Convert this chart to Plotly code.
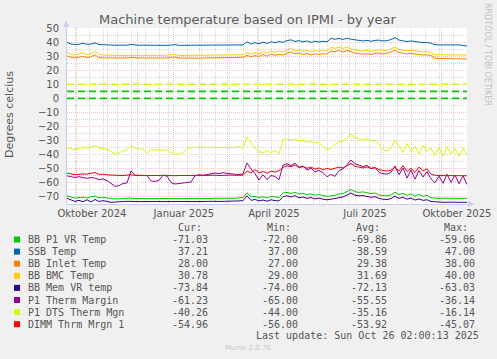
import pandas as pd
import plotly.graph_objects as go

# ---------------- data ----------------
start = pd.Timestamp("2024-09-21 02:00")
end = pd.Timestamp("2025-10-26 02:00")
dates = pd.date_range(start, end, periods=101)  # one sample every 4 days

bb_p1_vr = [-69.2, -70.2, -70.8, -70.4, -70.2, -70.8, -69.8, -69.4, -70.6, -70.2,
            -70.8, -71.2, -71.4, -71.2, -71.0, -71.2, -70.8, -71.1, -71.2, -71.0,
            -71.1, -71.0, -71.2, -71.1, -71.0, -71.1, -71.0, -71.1, -71.2, -71.0,
            -71.1, -71.0, -71.0, -71.1, -71.0, -71.0, -71.1, -70.9, -71.0, -71.0,
            -71.0, -70.8, -71.0, -70.6, -70.4, -67.0, -69.8, -69.6, -70.4, -69.8,
            -70.6, -69.6, -70.0, -70.4, -67.2, -66.8, -67.6, -66.6, -68.0, -67.4,
            -68.4, -67.8, -68.8, -68.2, -69.0, -69.6, -69.2, -68.8, -67.8, -67.6,
            -66.2, -64.6, -66.2, -66.8, -66.4, -66.8, -67.6, -67.2, -68.6, -69.0,
            -69.2, -68.6, -66.6, -68.4, -67.4, -68.8, -67.8, -69.4, -68.2, -69.6,
            -68.8, -70.6, -71.0, -71.0, -70.9, -71.0, -71.0, -71.1, -71.0, -71.0, -71.03]

ssb = [39.8, 38.6, 38.3, 38.4, 39.2, 38.4, 38.6, 39.4, 38.3, 38.0,
       37.8, 37.9, 37.8, 37.8, 37.8, 37.8, 38.4, 37.8, 37.7, 37.8,
       37.7, 37.8, 37.7, 37.7, 37.8, 37.7, 37.9, 38.2, 37.7, 37.7,
       37.7, 37.7, 37.8, 37.7, 37.7, 37.7, 37.7, 37.8, 37.7, 37.7,
       37.7, 38.1, 38.0, 37.8, 38.0, 40.2, 38.6, 39.6, 38.8, 40.0,
       39.0, 40.2, 39.6, 40.4, 39.8, 41.0, 41.6, 40.4, 41.0, 40.2,
       40.8, 39.8, 40.6, 40.0, 40.6, 40.2, 42.6, 42.0, 42.6, 41.8,
       42.8, 42.0, 41.6, 41.2, 40.8, 41.2, 40.6, 41.2, 41.4, 40.8,
       41.0, 41.8, 43.2, 41.4, 41.0, 40.4, 40.8, 40.2, 40.0, 39.6,
       39.8, 39.2, 38.2, 38.0, 38.0, 37.8, 38.2, 37.8, 38.0, 37.6, 37.2]

bb_inlet = [30.2, 29.2, 28.8, 29.4, 29.8, 28.8, 29.6, 31.0, 29.0, 28.8,
            28.7, 28.8, 28.7, 28.6, 28.7, 28.7, 29.2, 28.7, 28.7, 28.7,
            28.6, 28.7, 28.7, 28.6, 28.7, 28.7, 28.8, 29.4, 28.7, 28.6,
            28.7, 28.7, 28.7, 28.6, 28.7, 28.7, 28.7, 28.8, 28.7, 28.7,
            28.7, 29.0, 28.8, 28.7, 29.2, 30.6, 29.6, 30.4, 29.8, 31.2,
            30.0, 31.4, 30.6, 31.2, 30.8, 32.2, 33.0, 31.6, 32.2, 31.2,
            32.0, 30.8, 31.8, 31.2, 31.8, 31.4, 33.8, 33.2, 34.0, 33.0,
            34.0, 33.2, 32.2, 31.8, 31.4, 31.8, 31.2, 32.0, 32.2, 31.6,
            32.0, 33.0, 34.2, 32.6, 32.2, 31.6, 32.0, 31.4, 31.2, 30.8,
            31.0, 30.4, 28.6, 28.4, 28.3, 28.2, 28.3, 28.2, 28.2, 28.1, 28.0]

bb_bmc = [32.6, 31.2, 30.8, 31.6, 32.4, 31.0, 31.8, 33.4, 31.2, 30.8,
          30.5, 30.6, 30.5, 30.5, 30.5, 30.5, 31.0, 30.5, 30.5, 30.5,
          30.5, 30.5, 30.5, 30.4, 30.5, 30.5, 30.6, 31.2, 30.5, 30.5,
          30.5, 30.5, 30.5, 30.5, 30.5, 30.5, 30.5, 30.6, 30.5, 30.5,
          30.5, 30.8, 30.6, 30.5, 31.0, 32.6, 31.6, 32.6, 31.8, 33.2,
          32.2, 33.6, 32.8, 33.4, 33.0, 34.4, 35.4, 33.8, 34.4, 33.4,
          34.2, 33.0, 34.0, 33.4, 34.0, 33.6, 36.2, 35.6, 36.4, 35.4,
          36.6, 35.2, 34.4, 34.0, 33.6, 34.0, 33.4, 34.2, 34.6, 33.8,
          34.2, 35.2, 36.4, 34.8, 34.4, 33.8, 34.2, 33.6, 33.4, 33.0,
          33.2, 32.6, 31.2, 31.0, 30.9, 30.8, 30.9, 30.8, 30.8, 30.8, 30.78]

bb_mem_vr = [-70.9, -72.2, -73.2, -72.4, -73.4, -72.0, -73.6, -71.8, -73.2, -72.6,
             -73.4, -73.8, -73.6, -73.2, -73.3, -73.1, -73.4, -73.2, -73.3, -73.2,
             -73.3, -73.2, -73.4, -73.2, -73.3, -73.2, -73.3, -73.2, -73.4, -73.3,
             -73.2, -73.3, -73.2, -73.3, -73.2, -73.2, -73.3, -73.1, -73.2, -73.2,
             -73.2, -73.0, -73.1, -72.8, -72.6, -69.2, -72.4, -71.8, -72.8, -72.2,
             -73.0, -72.0, -72.6, -72.8, -69.8, -69.2, -70.0, -69.0, -70.6, -70.0,
             -71.0, -70.4, -71.4, -70.8, -71.6, -72.0, -71.6, -71.0, -70.4, -70.0,
             -68.6, -67.2, -68.8, -69.2, -69.0, -69.4, -70.2, -69.8, -71.0, -71.6,
             -71.8, -71.2, -69.4, -71.0, -70.2, -71.6, -70.8, -72.2, -71.4, -72.4,
             -72.0, -73.2, -73.6, -73.6, -73.8, -73.6, -73.7, -73.8, -73.6, -73.8, -73.84]

p1_therm_margin = [-55.0, -55.8, -56.2, -55.6, -56.4, -56.8, -56.2, -56.6, -57.6, -57.2,
                   -58.4, -60.2, -62.4, -62.0, -60.4, -60.0, -51.6, -54.6, -54.6, -54.4,
                   -54.8, -58.6, -59.0, -58.2, -54.6, -55.2, -59.8, -60.8, -60.4, -60.2,
                   -59.8, -59.4, -55.0, -54.2, -54.6, -54.0, -53.6, -53.0, -53.4, -52.8,
                   -53.2, -53.4, -53.8, -54.2, -53.6, -45.8, -50.2, -53.4, -58.0, -54.2,
                   -57.6, -54.8, -55.4, -57.8, -47.4, -46.4, -47.8, -46.0, -49.0, -48.0,
                   -50.8, -49.6, -52.2, -51.2, -52.8, -55.6, -54.0, -55.4, -51.2, -50.0,
                   -47.2, -43.8, -46.4, -47.2, -48.4, -47.6, -49.8, -49.0, -52.6, -53.4,
                   -53.8, -52.6, -48.0, -54.2, -49.4, -56.6, -50.8, -57.4, -51.2, -55.8,
                   -52.0, -57.2, -59.8, -55.2, -60.4, -53.8, -59.6, -54.4, -60.6, -55.0, -61.23]

p1_dts_therm = [-35.0, -35.5, -36.5, -35.5, -34.5, -35.5, -34.8, -33.6, -35.2, -35.8,
                -36.2, -37.5, -40.0, -38.8, -37.2, -36.5, -33.6, -35.2, -35.8, -36.2,
                -39.0, -36.5, -36.4, -36.6, -36.3, -36.8, -38.5, -39.8, -39.6, -38.5,
                -35.5, -35.3, -35.2, -34.6, -35.2, -34.8, -35.0, -34.6, -35.0, -34.8,
                -35.2, -34.6, -35.0, -34.2, -35.4, -27.5, -31.5, -35.5, -37.5, -38.8,
                -37.0, -38.5, -37.2, -39.2, -29.4, -28.6, -29.8, -28.8, -30.2, -29.6,
                -31.0, -30.4, -31.8, -31.2, -34.2, -36.8, -35.2, -32.5, -30.8, -30.2,
                -28.2, -25.3, -27.8, -28.8, -29.5, -28.6, -30.2, -29.8, -32.5, -36.8,
                -37.2, -35.5, -29.8, -33.5, -38.5, -32.0, -37.6, -34.0, -39.5, -33.2,
                -37.8, -35.4, -40.5, -35.0, -41.0, -34.2, -39.5, -35.8, -41.2, -35.4, -40.26]

dimm_mrgn = [-53.0, -53.6, -54.2, -54.0, -53.6, -53.8, -53.2, -52.6, -54.0, -53.8,
             -54.3, -54.6, -54.8, -54.7, -54.8, -54.6, -54.2, -54.7, -54.8, -54.6,
             -54.8, -54.7, -54.9, -54.8, -54.6, -54.8, -54.7, -54.9, -54.8, -54.7,
             -54.8, -54.6, -54.8, -54.7, -54.8, -54.6, -54.7, -54.5, -54.8, -54.6,
             -54.7, -54.5, -54.6, -54.4, -54.6, -51.5, -53.0, -50.5, -52.8, -52.0,
             -53.2, -51.6, -52.4, -51.2, -49.0, -47.8, -48.6, -47.2, -49.2, -48.4,
             -49.6, -48.8, -50.2, -49.4, -50.6, -49.8, -50.4, -49.6, -48.8, -49.4,
             -47.6, -46.2, -48.2, -48.8, -49.4, -48.6, -49.8, -49.2, -50.6, -51.2,
             -51.6, -51.0, -49.0, -51.5, -47.8, -52.0, -49.6, -52.6, -48.8, -51.6,
             -50.0, -53.8, -54.6, -54.8, -54.9, -54.8, -54.9, -55.0, -54.9, -54.9, -54.96]

series_names = ["BB P1 VR Temp", "SSB Temp", "BB Inlet Temp", "BB BMC Temp",
                "BB Mem VR temp", "P1 Therm Margin", "P1 DTS Therm Mgn", "DIMM Thrm Mrgn 1"]
series_values = [bb_p1_vr, ssb, bb_inlet, bb_bmc, bb_mem_vr, p1_therm_margin, p1_dts_therm, dimm_mrgn]
series_colors = ["#00CC00", "#0066B3", "#FF8000", "#FFCC00",
                 "#330099", "#990099", "#CCFF00", "#FF0000"]

cur_vals = ["-71.03", "37.21", "28.00", "30.78", "-73.84", "-61.23", "-40.26", "-54.96"]
min_vals = ["-72.00", "37.00", "27.00", "29.00", "-74.00", "-65.00", "-44.00", "-56.00"]
avg_vals = ["-69.86", "38.59", "29.38", "31.69", "-72.13", "-55.55", "-35.16", "-53.92"]
max_vals = ["-59.06", "47.00", "38.00", "40.00", "-63.03", "-36.14", "-16.14", "-45.07"]

hrule_values = [10, 5, 0]
hrule_colors = ["#CCFF00", "#00CC00", "#00CC00"]

xlabel_dates = ["2024-10-16", "2025-01-16", "2025-04-16", "2025-07-16", "2025-10-16"]
xlabel_text = ["Oktober 2024", "Januar 2025", "April 2025", "Juli 2025", "Oktober 2025"]
ytick_vals = [-70, -60, -50, -40, -30, -20, -10, 0, 10, 20, 30, 40, 50]

# ---------------- layout geometry ----------------
W, H = 497, 359
L, R, T, B = 67, 30, 28, 155
PW, PH = W - L - R, H - T - B


def px(x):
    return (x - L) / PW


def py(y):
    return (H - B - y) / PH


TXT = "#555555"
SANS = "DejaVu Sans"
MONO = "DejaVu Sans Mono"
MAJOR = "#f0c4c4"
MINOR = "#d8d8d8"

fig = go.Figure()

for name, vals, col in zip(series_names, series_values, series_colors):
    fig.add_trace(go.Scatter(x=dates, y=vals, mode="lines", name=name,
                             line=dict(color=col, width=1), showlegend=False,
                             hoverinfo="skip"))

for v, col in zip(hrule_values, hrule_colors):
    fig.add_trace(go.Scatter(x=[start, end], y=[v, v], mode="lines",
                             line=dict(color=col, width=1.6, dash="7px,4px"),
                             showlegend=False, hoverinfo="skip"))

# invisible trace for the label axis
fig.add_trace(go.Scatter(x=pd.to_datetime(xlabel_dates), y=[0] * len(xlabel_dates),
                         xaxis="x2", mode="markers", marker=dict(opacity=0),
                         showlegend=False, hoverinfo="skip"))

fig.update_layout(
    width=W, height=H,
    margin=dict(l=L, r=R, t=T, b=B, autoexpand=False),
    paper_bgcolor="#F0F0F0", plot_bgcolor="#FFFFFF",
    hovermode=False,
    font=dict(family=SANS, size=10, color=TXT),
    xaxis=dict(
        type="date", range=[start, end], autorange=False,
        tick0="2024-10-01", dtick="M1",
        showticklabels=False, ticks="",
        showgrid=True, gridcolor=MAJOR, griddash="1px,1px", gridwidth=1,
        minor=dict(dtick=14 * 86400000, tick0="2024-09-16", showgrid=True,
                   gridcolor=MINOR, griddash="1px,1px", ticks=""),
        showline=True, linecolor="#c8cbf2", linewidth=1, zeroline=False,
        fixedrange=True,
    ),
    xaxis2=dict(
        type="date", overlaying="x", anchor="y", side="bottom",
        range=[start, end], autorange=False,
        tickmode="array", tickvals=pd.to_datetime(xlabel_dates), ticktext=xlabel_text,
        showgrid=False, ticks="", showline=False, zeroline=False,
        tickfont=dict(family=SANS, size=10, color=TXT),
        ticklabelstandoff=2, fixedrange=True,
    ),
    yaxis=dict(
        range=[-75, 50], autorange=False, tickmode="array", tickvals=ytick_vals,
        showgrid=True, gridcolor=MAJOR, griddash="1px,1px", gridwidth=1,
        minor=dict(dtick=5, tick0=0, showgrid=True, gridcolor=MINOR,
                   griddash="1px,1px", ticks=""),
        ticks="", zeroline=False, showline=True, linecolor="#c8cbf2", linewidth=1,
        tickfont=dict(family=SANS, size=10, color=TXT),
        ticklabelstandoff=5, fixedrange=True,
    ),
)

ann = []
# title
ann.append(dict(text="Machine temperature based on IPMI - by year", x=px(248), y=py(19),
                font=dict(family=SANS, size=13, color="#5a5a5a")))
# y axis title
ann.append(dict(text="Degrees celcius", x=px(10), y=py(115), textangle=-90,
                font=dict(family=SANS, size=11, color=TXT)))
# right-side credit
ann.append(dict(text="RRDTOOL / TOBI OETIKER", x=px(488), y=py(54), textangle=90,
                font=dict(family=SANS, size=8, color="#c0c0c0")))
# axis arrows
ann.append(dict(text="▲", x=px(66.5), y=py(23), font=dict(family=SANS, size=8, color="#c8cbf2")))
ann.append(dict(text="▶", x=px(471), y=py(203.5), font=dict(family=SANS, size=8, color="#c8cbf2")))

# legend header
col_right = [210, 299.5, 388.5, 476.5]
for hdr, xr in zip(["Cur:", "Min:", "Avg:", "Max:"], col_right):
    ann.append(dict(text=hdr, x=px(xr - 6.5), y=py(227.5), xanchor="right",
                    font=dict(family=MONO, size=10, color=TXT)))

row_y0, row_dy = 239.5, 12.1
shapes = []
for i, name in enumerate(series_names):
    yc = row_y0 + i * row_dy
    shapes.append(dict(type="rect", xref="paper", yref="paper",
                       x0=px(14), x1=px(20), y0=py(yc + 3), y1=py(yc - 3),
                       fillcolor=series_colors[i], line=dict(width=0)))
    ann.append(dict(text=name, x=px(26), y=py(yc), xanchor="left",
                    font=dict(family=MONO, size=10, color=TXT)))
    for vals, xr in zip([cur_vals, min_vals, avg_vals, max_vals], col_right):
        ann.append(dict(text=vals[i], x=px(xr), y=py(yc), xanchor="right",
                        font=dict(family=MONO, size=10, color=TXT)))

ann.append(dict(text="Last update: Sun Oct 26 02:00:13 2025", x=px(481.5), y=py(335.7),
                xanchor="right", font=dict(family=MONO, size=10, color=TXT)))
ann.append(dict(text="Munin 2.0.76", x=px(248), y=py(348.3),
                font=dict(family=SANS, size=7, color="#c8c8c8")))

for a in ann:
    a.setdefault("xanchor", "center")
    a.update(xref="paper", yref="paper", showarrow=False, yanchor="middle")

fig.update_layout(annotations=ann, shapes=shapes)

fig.write_html("out.html", config={"displayModeBar": False},
               post_script="document.body.style.margin='0';document.body.style.overflow='hidden';")
